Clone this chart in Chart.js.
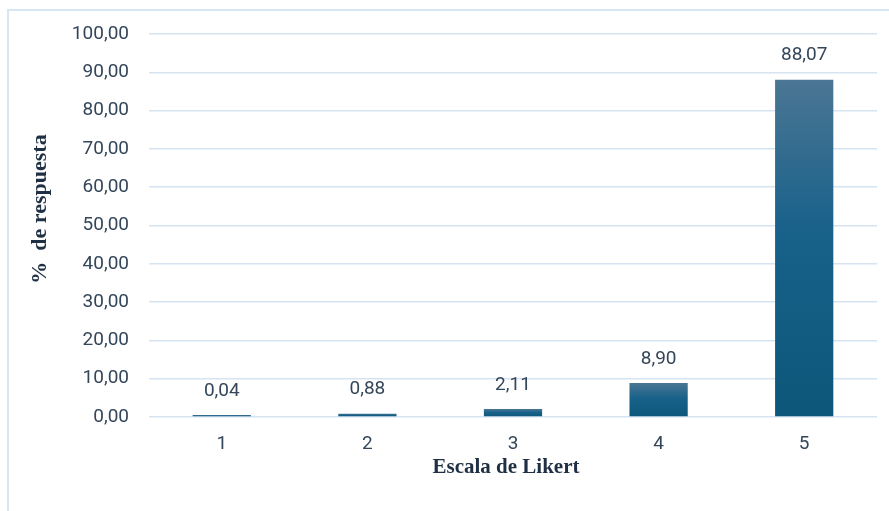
<!DOCTYPE html>
<html lang="es">
<head>
    <meta charset="UTF-8">
    <title>Escala de Likert</title>
    <script src="https://cdn.jsdelivr.net/npm/chart.js"></script>
    <style>
        body {
            margin: 0;
            background: #ffffff;
            overflow: hidden;
        }

        .marco {
            position: absolute;
            left: 7px;
            top: 9px;
            width: 900px;
            height: 600px;
            border: 2px solid #d7e6f4;
        }

        .grafico-container {
            position: absolute;
            left: 0;
            top: 0;
            width: 889px;
            height: 511px;
        }
    </style>
</head>
<body>
    <div class="marco"></div>
    <div class="grafico-container">
        <canvas id="grafico"></canvas>
    </div>

    <script>
        const categorias = ['1', '2', '3', '4', '5'];
        const porcentajes = [0.04, 0.88, 2.11, 8.90, 88.07];
        const ticksY = [0, 10, 20, 30, 40, 50, 60, 70, 80, 90, 100];
        const tituloX = 'Escala de Likert';
        const tituloY = '%  de respuesta';

        const formato = v => v.toFixed(2).replace('.', ',');
        const colorTexto = '#34465a';
        const colorTitulo = '#1f3044';
        const fuenteTitulo = 'bold 21px "Liberation Serif"';

        // degradado vertical por barra (claro arriba, oscuro abajo)
        function degradado(ctx) {
            const chart = ctx.chart;
            const y = chart.scales && chart.scales.y;
            if (!y || !chart.chartArea || ctx.raw === undefined) return '#0d5a7e';
            const top = y.getPixelForValue(ctx.raw);
            const base = y.getPixelForValue(0);
            const g = chart.ctx.createLinearGradient(0, Math.min(top, base - 2), 0, base);
            g.addColorStop(0, '#4b7694');
            g.addColorStop(0.45, '#18618a');
            g.addColorStop(1, '#0c5779');
            return g;
        }

        // etiquetas de valor encima de cada barra
        const etiquetas = {
            id: 'etiquetas',
            afterDatasetsDraw(chart) {
                const ctx = chart.ctx;
                const meta = chart.getDatasetMeta(0);
                ctx.save();
                ctx.font = '19px Roboto';
                ctx.fillStyle = colorTexto;
                ctx.textAlign = 'center';
                ctx.textBaseline = 'middle';
                meta.data.forEach((bar, i) => {
                    ctx.fillText(formato(porcentajes[i]), bar.x, bar.y - 24);
                });
                ctx.restore();
            }
        };

        // títulos de los ejes (posición como en el original)
        const titulos = {
            id: 'titulos',
            afterDraw(chart) {
                const ctx = chart.ctx;
                ctx.save();
                ctx.font = fuenteTitulo;
                ctx.fillStyle = colorTitulo;
                ctx.textAlign = 'center';
                ctx.textBaseline = 'middle';
                ctx.fillText(tituloX, 506, 468);
                ctx.translate(40, 209);
                ctx.rotate(-Math.PI / 2);
                ctx.font = 'bold 22px "Liberation Serif"';
                ctx.fillText(tituloY, 0, 0);
                ctx.restore();
            }
        };

        new Chart(document.getElementById('grafico'), {
            type: 'bar',
            data: {
                labels: categorias,
                datasets: [{
                    data: porcentajes,
                    backgroundColor: degradado,
                    barPercentage: 0.4,
                    categoryPercentage: 1,
                    minBarLength: 2
                }]
            },
            plugins: [etiquetas, titulos],
            options: {
                responsive: true,
                maintainAspectRatio: false,
                animation: false,
                layout: { padding: { left: 7, right: 12, top: 34, bottom: 24 } },
                plugins: {
                    legend: { display: false },
                    tooltip: { enabled: false }
                },
                scales: {
                    x: {
                        grid: { display: false, drawTicks: false },
                        border: { display: false },
                        ticks: {
                            padding: 16,
                            color: colorTexto,
                            font: { family: 'Roboto', size: 19 }
                        },
                        afterFit: s => { s.height = 70; }
                    },
                    y: {
                        min: 0,
                        max: 100,
                        afterBuildTicks: s => { s.ticks = ticksY.map(v => ({ value: v })); },
                        grid: { color: '#d6e4f2', lineWidth: 1.5, drawTicks: false },
                        border: { display: false },
                        ticks: {
                            padding: 20,
                            color: colorTexto,
                            font: { family: 'Roboto', size: 19 },
                            callback: v => formato(v)
                        },
                        afterFit: s => { s.width = 142; }
                    }
                }
            }
        });
    </script>
</body>
</html>
